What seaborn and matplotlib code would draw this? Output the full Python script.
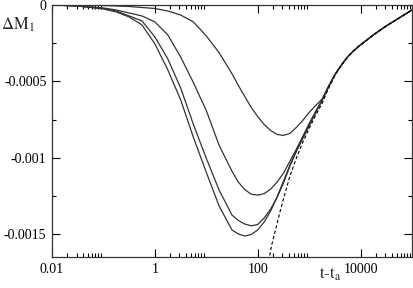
import numpy as np
import pandas as pd
import matplotlib
matplotlib.use("Agg")
import matplotlib.pyplot as plt
import seaborn as sns
from matplotlib.ticker import FixedLocator, FixedFormatter

# ---- data (Delta M_1 values in units of 1e-4) ----
t_grid = [0.01, 0.0316, 0.1, 0.178, 0.316, 0.562, 1, 1.78, 3.16, 5.62, 10, 17.8,
          31.6, 42.2, 56.2, 75, 100, 133, 178, 237, 316, 422, 562, 750, 1000,
          1334, 1778]

curve_a_e4 = [0, -0.01, -0.033, -0.065, -0.098, -0.163, -0.228, -0.391, -0.652,
              -1.108, -2.021, -3.129, -4.498, -5.280, -5.997, -6.714, -7.301,
              -7.823, -8.214, -8.475, -8.540, -8.410, -8.019, -7.562, -7.041,
              -6.584, -6.160]
curve_b_e4 = [0, -0.065, -0.196, -0.326, -0.522, -0.717, -1.108, -1.956, -3.390,
              -5.085, -6.910, -9.192, -10.887, -11.604, -12.093, -12.386, -12.451,
              -12.353, -12.060, -11.604, -11.017, -10.235, -9.453, -8.605, -7.758,
              -6.975, -6.226]
curve_c_e4 = [0, -0.065, -0.228, -0.391, -0.717, -1.043, -2.086, -3.520, -5.411,
              -7.823, -10.039, -12.125, -13.755, -14.114, -14.342, -14.459, -14.374,
              -13.951, -13.364, -12.614, -11.669, -10.561, -9.583, -8.735, -7.888,
              -7.041, -6.258]
curve_d_e4 = [0, -0.065, -0.261, -0.456, -0.782, -1.304, -2.542, -4.237, -6.193,
              -8.670, -10.952, -13.168, -14.733, -14.994, -15.124, -15.026, -14.733,
              -14.211, -13.494, -12.582, -11.539, -10.496, -9.583, -8.735, -7.888,
              -7.041, -6.258]

# common late-time part shared by all curves
tail_t = [2371, 3162, 4217, 5623, 7499, 10000, 13335, 17783, 23714, 31623,
          42170, 56234, 74989, 100000]
tail_e4 = [-5.35, -4.563, -3.944, -3.390, -2.966, -2.608, -2.282, -1.956, -1.662,
           -1.369, -1.108, -0.847, -0.587, -0.326]

# dashed asymptotic curve
dash_t = [160, 171, 187, 224, 267, 316, 422, 562, 750, 1000, 1334, 1778, 2371, 3162]
dash_e4 = [-16.754, -16.428, -15.711, -14.668, -13.625, -12.712, -11.213, -10.039,
           -8.996, -8.083, -7.236, -6.454, -5.476, -4.628]
dash_tail_t = tail_t[2:]
dash_tail_e4 = tail_e4[2:]

x_major = [0.01, 1, 100, 10000]
x_labels = ["0.01", "1", "100", "10000"]
y_major = [0, -0.0005, -0.001, -0.0015]
y_labels = ["0", "-0.0005", "-0.001", "-0.0015"]
y_minor = [-0.00025, -0.00075, -0.00125]
SCALE = 1e-4

# ---- styling ----
sns.set_style("ticks")
plt.rcParams["font.family"] = ["Liberation Serif", "DejaVu Serif"]
plt.rcParams["mathtext.fontset"] = "stix"
plt.rcParams["axes.unicode_minus"] = False

fig = plt.figure(figsize=(4.14, 2.88), dpi=100)
ax = fig.add_axes([52 / 414, 1 - 257 / 288, 360 / 414, 252 / 288])

line_color = "#333333"
for vals in [curve_a_e4, curve_b_e4, curve_c_e4, curve_d_e4]:
    df = pd.DataFrame({"t": t_grid + tail_t,
                       "dM": [v * SCALE for v in vals + tail_e4]})
    sns.lineplot(data=df, x="t", y="dM", ax=ax, color=line_color, lw=0.9,
                 estimator=None, sort=False)

dfd = pd.DataFrame({"t": dash_t + dash_tail_t,
                    "dM": [v * SCALE for v in dash_e4 + dash_tail_e4]})
sns.lineplot(data=dfd, x="t", y="dM", ax=ax, color="black", lw=0.8,
             estimator=None, sort=False, linestyle=(0, (3, 2)))

ax.set_xscale("log")
ax.set_xlim(0.01, 1e5)
ax.set_ylim(-0.00165, 0)

ax.xaxis.set_major_locator(FixedLocator(x_major))
ax.xaxis.set_major_formatter(FixedFormatter(x_labels))
x_minor = [m * base for base in x_major for m in range(2, 10)]
ax.xaxis.set_minor_locator(FixedLocator(x_minor))
ax.xaxis.set_minor_formatter(FixedFormatter([""] * len(x_minor)))

ax.yaxis.set_major_locator(FixedLocator(y_major))
ax.yaxis.set_major_formatter(FixedFormatter(y_labels))
ax.yaxis.set_minor_locator(FixedLocator(y_minor))

ax.tick_params(which="both", direction="in", top=True, right=True,
               labelsize=10, colors="black", width=0.8)
ax.tick_params(which="major", length=5.5, pad=4)
ax.tick_params(which="minor", length=3)
for s in ax.spines.values():
    s.set_linewidth(0.9)
    s.set_color("#333333")

ax.set_xlabel("")
ax.set_ylabel("")

fig.text(0.043, 0.915, r"$\Delta\mathrm{M}_1$", fontsize=12, ha="center", va="center")
fig.text(0.797, 0.048, r"$\mathrm{t}$-$\mathrm{t}_\mathrm{a}$", fontsize=12,
         ha="center", va="center")

fig.savefig("out.png", dpi=100)
